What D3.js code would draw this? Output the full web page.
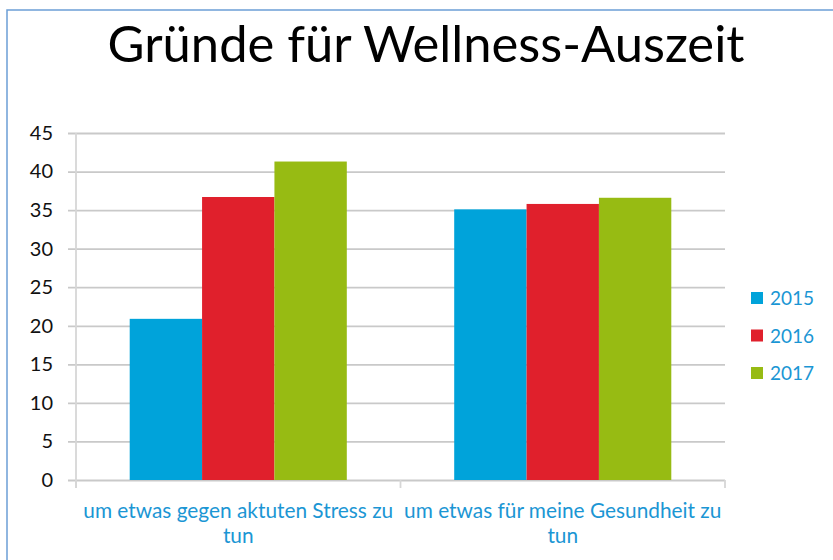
<!DOCTYPE html>
<html><head><meta charset="utf-8">
<script src="https://cdn.jsdelivr.net/npm/d3@7"></script>
<style>
html,body{margin:0;padding:0;background:#fff;}
svg{display:block;font-family:Lato, "Open Sans", sans-serif;}
</style></head>
<body>
<svg id="chart" width="833" height="560"></svg>
<script>
const title = "Gründe für Wellness-Auszeit";
const categories = ["um etwas gegen aktuten Stress zu tun", "um etwas für meine Gesundheit zu tun"];
const categoryLines = [["um etwas gegen aktuten Stress zu", "tun"], ["um etwas für meine Gesundheit zu", "tun"]];
const seriesNames = ["2015", "2016", "2017"];
const values2015 = [20.9, 35.1];
const values2016 = [36.7, 35.8];
const values2017 = [41.3, 36.6];
const yTicks = [0, 5, 10, 15, 20, 25, 30, 35, 40, 45];
const colors = ["#00a3da", "#e0202c", "#97bb13"];

const seriesValues = [values2015, values2016, values2017];
const svg = d3.select("#chart");

// outer frame
svg.append("rect").attr("x", 7).attr("y", 10).attr("width", 900).attr("height", 700)
  .attr("fill", "none").attr("stroke", "#6c9ed6").attr("stroke-width", 1.5);

// title
const t = svg.append("text").attr("x", 426).attr("y", 62).attr("text-anchor", "middle")
  .attr("fill", "#000").attr("font-size", 44).text(title);
const tw = t.node().getComputedTextLength();
t.attr("font-size", 44 * 637 / tw);

const x0 = d3.scaleBand().domain(categories).range([76, 725]).paddingInner(0.331).paddingOuter(0.1655);
const x1 = d3.scaleBand().domain(seriesNames).range([0, x0.bandwidth()]);
const y = d3.scaleLinear().domain([0, 45]).range([480, 133]);

// gridlines + y labels
const yAxis = d3.axisLeft(y).tickValues(yTicks).tickSize(0).tickPadding(0).tickSizeOuter(0);
const yg = svg.append("g").attr("transform", "translate(53,0)").call(yAxis);
yg.select(".domain").remove();
yg.selectAll("text").attr("font-size", 20).attr("fill", "#111").attr("font-family", "Lato");

const grid = d3.axisLeft(y).tickValues(yTicks).tickSize(-(725 - 68)).tickFormat("").tickSizeOuter(0);
const gg = svg.append("g").attr("transform", "translate(68,0)").call(grid);
gg.select(".domain").remove();
gg.selectAll("line").attr("stroke", "#c9c9c9").attr("stroke-width", 1.8);

// vertical axis line
svg.append("line").attr("x1", 76).attr("x2", 76).attr("y1", y(45)).attr("y2", 488)
  .attr("stroke", "#d6d6d6").attr("stroke-width", 1.8);

// category boundary ticks
const bounds = [76, ...categories.slice(1).map(c => x0(c) - x0.step() * x0.paddingInner() / 2), 725];
svg.append("g").selectAll("line").data(bounds).join("line")
  .attr("x1", d => d).attr("x2", d => d).attr("y1", 480).attr("y2", 488)
  .attr("stroke", "#d6d6d6").attr("stroke-width", 1.8);

// bars
const groups = svg.append("g").selectAll("g").data(categories).join("g")
  .attr("transform", c => `translate(${x0(c)},0)`);
groups.selectAll("rect").data((c, i) => seriesNames.map((s, j) => ({s, v: seriesValues[j][i], j})))
  .join("rect")
  .attr("x", d => x1(d.s)).attr("width", x1.bandwidth())
  .attr("y", d => y(d.v)).attr("height", d => y(0) - y(d.v))
  .attr("fill", d => colors[d.j]);

// category labels
const labelTexts = [];
categories.forEach((c, i) => {
  const cx = x0(c) + x0.bandwidth() / 2;
  const tx = svg.append("text").attr("text-anchor", "middle").attr("fill", "#1b96d4")
    .attr("font-size", 20);
  categoryLines[i].forEach((line, k) => {
    tx.append("tspan").attr("x", cx).attr("y", 518 + k * 25).text(line);
  });
  labelTexts.push(tx);
});
const firstW = labelTexts[0].select("tspan").node().getComputedTextLength();
const labelSize = 20 * 310 / firstW;
labelTexts.forEach(tx => tx.attr("font-size", labelSize));

// legend
const lg = svg.append("g").selectAll("g").data(seriesNames).join("g")
  .attr("transform", (d, i) => `translate(751,${298 + i * 37.5})`);
lg.append("rect").attr("x", 0).attr("y", -6).attr("width", 12).attr("height", 12)
  .attr("fill", (d, i) => colors[i]);
lg.append("text").attr("x", 19).attr("y", 7).attr("fill", "#1b96d4").attr("font-size", 19).text(d => d);
</script>
</body></html>
